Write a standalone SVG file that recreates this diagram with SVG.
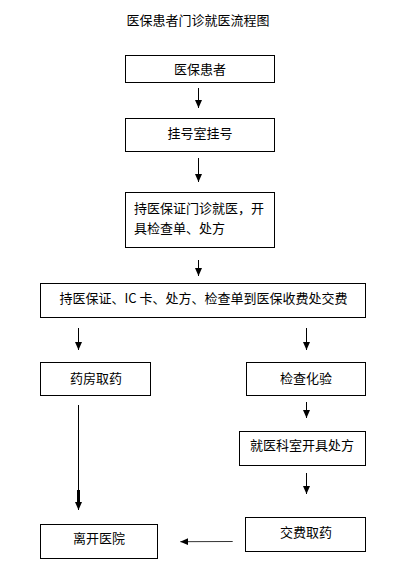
<svg xmlns="http://www.w3.org/2000/svg" width="418" height="569" viewBox="0 0 418 569">
<style>
.box{fill:#fff;stroke:#000;stroke-width:1}
.t{font-family:"Noto Sans CJK SC","Liberation Sans",sans-serif;font-size:13px;fill:#000}
.c{text-anchor:middle}
.ln{stroke:#000;stroke-width:1;fill:none}
</style>
<defs>
<marker id="ah" viewBox="0 0 8 7" refX="8" refY="3.5" markerWidth="8" markerHeight="7" markerUnits="userSpaceOnUse" orient="auto">
<path d="M0,0 L8,3.5 L0,7 z" fill="#000"/>
</marker>
</defs>
<rect width="418" height="569" fill="#fff"/>
<text class="t c" x="198" y="25">医保患者门诊就医流程图</text>
<g id="n1"><rect class="box" x="125.5" y="55.5" width="149" height="27"/><text class="t c" x="200" y="74">医保患者</text></g>
<g id="n2"><rect class="box" x="125.5" y="118.5" width="149" height="33"/><text class="t c" x="200" y="138">挂号室挂号</text></g>
<g id="n3"><rect class="box" x="125.5" y="192.5" width="149" height="55"/><text class="t" x="134" y="213">持医保证门诊就医，开</text><text class="t" x="134" y="233">具检查单、处方</text></g>
<g id="n4"><rect class="box" x="40.5" y="283.5" width="325" height="34"/><text class="t c" x="203.5" y="303">持医保证、IC 卡、处方、检查单到医保收费处交费</text></g>
<g id="n5"><rect class="box" x="40.5" y="362.5" width="110" height="33"/><text class="t c" x="96" y="382.5">药房取药</text></g>
<g id="n6"><rect class="box" x="246.5" y="362.5" width="119" height="33"/><text class="t c" x="306" y="382.5">检查化验</text></g>
<g id="n7"><rect class="box" x="239.5" y="431.5" width="126" height="34"/><text class="t c" x="302" y="450">就医科室开具处方</text></g>
<g id="n8"><rect class="box" x="245.5" y="517.5" width="120" height="34"/><text class="t c" x="306" y="537">交费取药</text></g>
<g id="n9"><rect class="box" x="40.5" y="524.5" width="117" height="34"/><text class="t c" x="99" y="543">离开医院</text></g>
<g id="connectors">
<line class="ln" x1="198.5" y1="88" x2="198.5" y2="108" marker-end="url(#ah)"/>
<line class="ln" x1="198.5" y1="158" x2="198.5" y2="182" marker-end="url(#ah)"/>
<line class="ln" x1="198.5" y1="260" x2="198.5" y2="276" marker-end="url(#ah)"/>
<line class="ln" x1="78.5" y1="328" x2="78.5" y2="350" marker-end="url(#ah)"/>
<line class="ln" x1="306.5" y1="328" x2="306.5" y2="350" marker-end="url(#ah)"/>
<line class="ln" x1="306.5" y1="402" x2="306.5" y2="418" marker-end="url(#ah)"/>
<line class="ln" x1="306.5" y1="473" x2="306.5" y2="494" marker-end="url(#ah)"/>
<line class="ln" x1="78.5" y1="405" x2="78.5" y2="510" marker-end="url(#ah)"/>
<rect x="77" y="490" width="3" height="15" fill="#000"/>
<line class="ln" x1="232.7" y1="541.5" x2="180.3" y2="541.7" style="stroke:#333" marker-end="url(#ah)"/>
</g>
</svg>
